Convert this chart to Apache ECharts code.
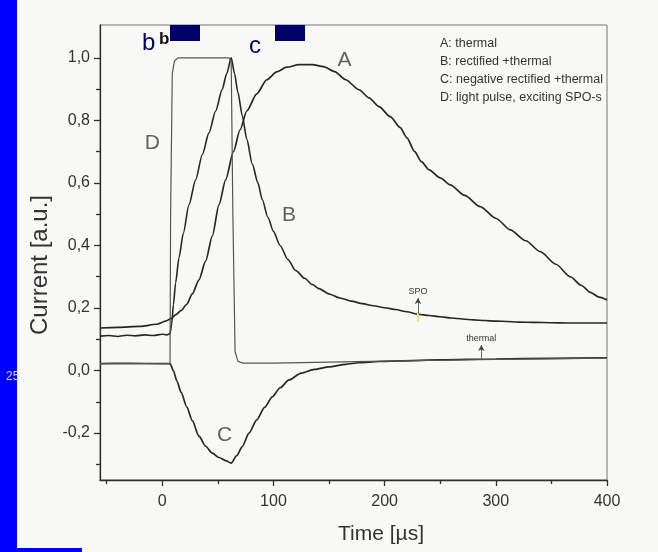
<!DOCTYPE html>
<html>
<head>
<meta charset="utf-8">
<script src="https://cdn.jsdelivr.net/npm/echarts@6/dist/echarts.min.js"></script>
<style>
  html, body { margin: 0; padding: 0; background: #f8f8f6; }
  #chart { width: 658px; height: 552px; }
</style>
</head>
<body>
<div id="chart"></div>
<script>
// Time axis in microseconds, current in arbitrary units
const timeA = [-56, -40, -20, -5, 3, 8, 12, 17, 22, 27, 33, 39, 45, 51, 57, 64, 70, 76, 85, 94, 103, 112, 123, 135, 145, 155, 165, 177, 186, 195, 205, 214, 220, 227, 233, 240, 250, 259, 272, 286, 300, 313, 327, 340, 354, 367, 377, 385, 393, 400];
const currentA = [0.136, 0.138, 0.141, 0.148, 0.158, 0.166, 0.178, 0.192, 0.212, 0.245, 0.29, 0.35, 0.43, 0.53, 0.61, 0.70, 0.77, 0.83, 0.885, 0.93, 0.955, 0.97, 0.978, 0.978, 0.972, 0.956, 0.93, 0.898, 0.872, 0.844, 0.812, 0.777, 0.745, 0.70, 0.668, 0.642, 0.616, 0.594, 0.56, 0.524, 0.487, 0.45, 0.415, 0.38, 0.34, 0.30, 0.272, 0.25, 0.235, 0.226];

const timeB = [-56, -48, -40, -32, -24, -16, -8, 0, 4, 7, 8.5, 10, 12, 15, 19, 24, 30, 36, 42, 48, 54, 58, 62, 65, 68, 72, 76, 81, 86, 90, 95, 100, 106, 113, 120, 128, 135, 141, 150, 160, 170, 180, 190, 200, 210, 220, 230, 240, 250, 260, 270, 280, 290, 300, 310, 320, 335, 350, 365, 380, 400];
const currentB = [0.110, 0.112, 0.109, 0.113, 0.111, 0.114, 0.112, 0.116, 0.114, 0.118, 0.15, 0.21, 0.28, 0.36, 0.44, 0.53, 0.61, 0.69, 0.76, 0.83, 0.90, 0.95, 1.0, 0.95, 0.89, 0.815, 0.74, 0.66, 0.60, 0.546, 0.49, 0.445, 0.40, 0.355, 0.32, 0.295, 0.275, 0.262, 0.245, 0.232, 0.222, 0.214, 0.207, 0.201, 0.195, 0.188, 0.180, 0.176, 0.172, 0.168, 0.165, 0.162, 0.160, 0.158, 0.157, 0.155, 0.154, 0.153, 0.152, 0.152, 0.152];

const timeC = [-56, -30, 0, 7, 10, 13, 17, 22, 27, 33, 39, 45, 51, 57, 62, 67, 72, 78, 85, 92, 99, 106, 114, 125, 137, 150, 165, 177, 195, 214, 250, 300, 350, 400];
const currentC = [0.022, 0.023, 0.022, 0.022, 0.0, -0.032, -0.07, -0.116, -0.16, -0.21, -0.242, -0.264, -0.278, -0.288, -0.296, -0.272, -0.243, -0.20, -0.158, -0.118, -0.084, -0.055, -0.03, -0.008, 0.004, 0.012, 0.02, 0.025, 0.029, 0.031, 0.034, 0.037, 0.039, 0.041];

const timeD = [-56, 7, 7.5, 9, 11, 14, 40, 60, 62, 63.5, 65.5, 68, 72, 100, 150, 200, 250, 300, 400];
const currentD = [0.022, 0.022, 0.5, 0.95, 0.99, 1.0, 1.0, 1.0, 0.99, 0.5, 0.06, 0.03, 0.024, 0.024, 0.027, 0.03, 0.033, 0.036, 0.04];

// Curve letters placed next to their traces
const curveNames = ['A', 'B', 'C', 'D'];
const curveNameTime = [164, 114, 56, -9];
const curveNameCurrent = [0.994, 0.498, -0.206, 0.728];

// Axis ticks
const xMajorTicks = [0, 100, 200, 300, 400];
const xMinorTicks = [-50, 50, 150, 250, 350];
const yMajorTicks = [-0.2, 0, 0.2, 0.4, 0.6, 0.8, 1.0];
const yMinorTicks = [-0.3, -0.1, 0.1, 0.3, 0.5, 0.7, 0.9];

const legendLines = [
  'A: thermal',
  'B: rectified +thermal',
  'C: negative rectified +thermal',
  'D: light pulse, exciting SPO-s'
];

const X_MIN = -56, X_MAX = 400, Y_MIN = -0.35, Y_MAX = 1.105;
const FONT = '"Liberation Sans", Arial, sans-serif';
const INK = '#2e2e2e';

function pairs(xs, ys) { return xs.map((x, i) => [x, ys[i]]); }
function commaFmt(v) { return (Math.round(v * 10) / 10).toFixed(1).replace('.', ','); }

const chart = echarts.init(document.getElementById('chart'), null, { renderer: 'canvas' });

function axisX(major) {
  return {
    type: 'value', min: X_MIN, max: X_MAX, position: 'bottom', offset: 0,
    axisLine: { show: major, onZero: false, lineStyle: { color: INK, width: 1.3 } },
    axisTick: { show: true, customValues: major ? xMajorTicks : xMinorTicks, length: major ? 6 : 4, lineStyle: { color: INK, width: 1.3 } },
    axisLabel: major ? { customValues: xMajorTicks, color: '#333', fontSize: 16, fontFamily: FONT, margin: 14 } : { show: false },
    splitLine: { show: false }
  };
}
function axisY(major) {
  return {
    type: 'value', min: Y_MIN, max: Y_MAX, position: 'left', offset: 0,
    axisLine: { show: major, onZero: false, lineStyle: { color: INK, width: 1.3 } },
    axisTick: { show: true, customValues: major ? yMajorTicks : yMinorTicks, length: major ? 6 : 4, lineStyle: { color: INK, width: 1.3 } },
    axisLabel: major ? { customValues: yMajorTicks, color: '#333', fontSize: 16, fontFamily: FONT, margin: 10, formatter: commaFmt } : { show: false },
    splitLine: { show: false }
  };
}

function curve(name, xs, ys, color, width, smooth) {
  return {
    name, type: 'line', xAxisIndex: 0, yAxisIndex: 0,
    data: pairs(xs, ys), showSymbol: false, symbol: 'none',
    smooth: smooth, smoothMonotone: 'x',
    lineStyle: { color, width }, z: 3, animation: false
  };
}

const arrowLine = (t, v0, v1, text) => [
  { coord: [t, v0], symbol: 'none' },
  { coord: [t, v1], symbol: 'arrow', symbolSize: [5, 6], label: { show: true, position: 'end', formatter: text, color: '#333', fontSize: 9, fontFamily: FONT, distance: 2 } }
];

const seriesB = curve('B', timeB, currentB, '#262626', 1.6, 0.25);
seriesB.markLine = {
  silent: true, animation: false,
  lineStyle: { color: '#444', width: 0.8, type: 'solid' },
  data: [arrowLine(230, 0.182, 0.232, 'SPO')]
};
const seriesD = curve('D', timeD, currentD, '#555', 1.2, false);
seriesD.markLine = {
  silent: true, animation: false,
  lineStyle: { color: '#444', width: 0.8, type: 'solid' },
  data: [arrowLine(287, 0.037, 0.082, 'thermal')]
};

chart.setOption({
  animation: false,
  backgroundColor: '#f8f8f6',
  grid: { left: 100, right: 51, top: 25, bottom: 72, show: true, borderColor: '#777', borderWidth: 1, backgroundColor: 'transparent' },
  xAxis: [axisX(true), axisX(false)],
  yAxis: [axisY(true), axisY(false)],
  series: [
    curve('A', timeA, currentA, '#262626', 1.7, 0.25),
    seriesB,
    curve('C', timeC, currentC, '#262626', 1.7, 0.25),
    seriesD,
    {
      name: 'labels', type: 'scatter', xAxisIndex: 0, yAxisIndex: 0,
      symbolSize: 0, silent: true, z: 4,
      data: curveNames.map((n, i) => ({ value: [curveNameTime[i], curveNameCurrent[i]], name: n })),
      label: { show: true, position: 'inside', formatter: p => p.name, color: '#3a3a3a', fontSize: 21, fontFamily: FONT }
    }
  ],
  graphic: [
    // left border strip of the page
    { type: 'rect', shape: { x: 0, y: 0, width: 17, height: 552 }, style: { fill: '#0000ff' }, silent: true },
    { type: 'rect', shape: { x: 17, y: 548, width: 65, height: 4 }, style: { fill: '#0000ff' }, silent: true },
    { type: 'text', x: 6, y: 371, style: { text: '25', fill: '#d8dcff', fontSize: 12, fontFamily: FONT } },
    // header markers
    { type: 'rect', shape: { x: 170, y: 25, width: 30, height: 16 }, style: { fill: '#000066' }, silent: true },
    { type: 'rect', shape: { x: 275, y: 25, width: 30, height: 16 }, style: { fill: '#000066' }, silent: true },
    { type: 'text', x: 142, y: 31, style: { text: 'b', fill: '#000066', fontSize: 24, fontFamily: FONT } },
    { type: 'text', x: 159, y: 31, style: { text: 'b', fill: '#111', fontSize: 17, fontWeight: 'bold', fontFamily: FONT } },
    { type: 'text', x: 249, y: 34, style: { text: 'c', fill: '#000066', fontSize: 24, fontFamily: FONT } },
    // legend block
    {
      type: 'text', x: 440, y: 35,
      style: { text: legendLines.join('\n'), fill: '#333', fontSize: 12.5, lineHeight: 18, fontFamily: FONT }
    },
    // yellow mark on the B trace
    { type: 'rect', shape: { x: 417, y: 312, width: 2, height: 10 }, style: { fill: '#f2e36a' }, silent: true, z: 5 },
    // axis titles
    { type: 'text', x: 381, y: 534, style: { text: 'Time [µs]', fill: '#333', fontSize: 21, fontFamily: FONT, textAlign: 'center', textVerticalAlign: 'middle' } },
    { type: 'text', x: 40, y: 265, rotation: Math.PI / 2, style: { text: 'Current [a.u.]', fill: '#333', fontSize: 24, fontFamily: FONT, textAlign: 'center', textVerticalAlign: 'middle' } }
  ]
});
</script>
</body>
</html>
